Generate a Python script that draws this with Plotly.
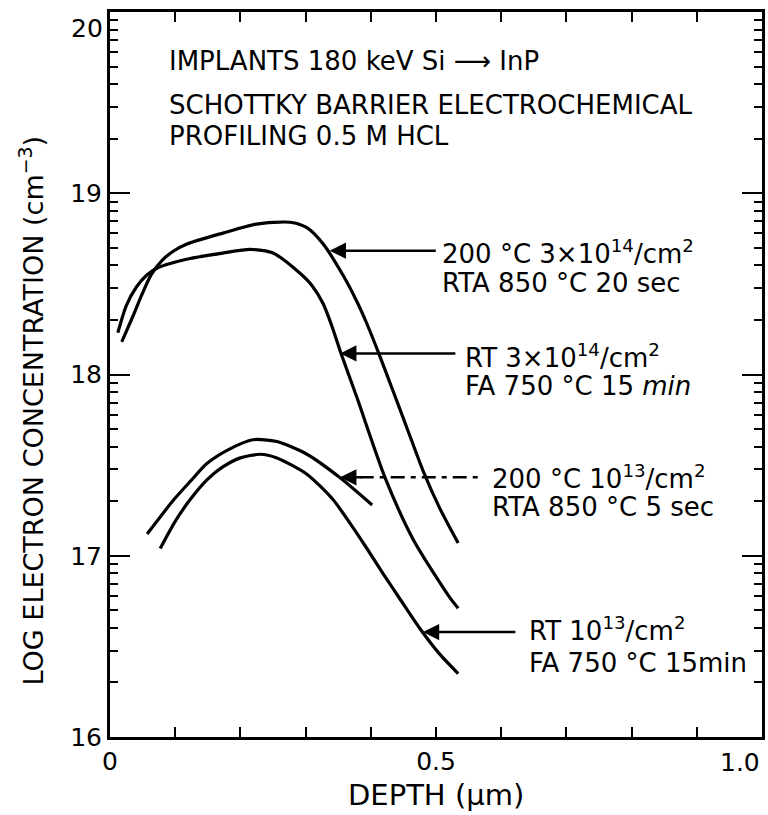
import math
import plotly.graph_objects as go

# ---- data (depth in µm, log10 electron concentration in cm^-3) ----
rta20_x = [0.018, 0.035, 0.050, 0.063, 0.080, 0.097, 0.118, 0.173, 0.225, 0.276,
           0.302, 0.327, 0.357, 0.379, 0.394, 0.414, 0.434, 0.457, 0.480, 0.506, 0.534]
rta20_y = [18.18, 18.32, 18.45, 18.55, 18.63, 18.68, 18.72, 18.78, 18.83, 18.84,
           18.81, 18.72, 18.55, 18.40, 18.28, 18.10, 17.91, 17.69, 17.47, 17.26, 17.07]

rtfa14_x = [0.012, 0.025, 0.040, 0.057, 0.074, 0.123, 0.173, 0.215, 0.250, 0.291,
            0.310, 0.327, 0.340, 0.353, 0.379, 0.422, 0.465, 0.521, 0.534]
rtfa14_y = [18.23, 18.38, 18.48, 18.55, 18.59, 18.64, 18.67, 18.69, 18.67, 18.56,
            18.49, 18.39, 18.27, 18.13, 17.87, 17.43, 17.09, 16.77, 16.71]

rta5_x = [0.057, 0.098, 0.123, 0.149, 0.184, 0.219, 0.256, 0.302, 0.353, 0.402]
rta5_y = [17.12, 17.31, 17.41, 17.51, 17.59, 17.64, 17.63, 17.56, 17.43, 17.28]

rtfa13_x = [0.077, 0.100, 0.123, 0.149, 0.173, 0.200, 0.230, 0.256, 0.302, 0.342,
            0.368, 0.394, 0.419, 0.445, 0.475, 0.505, 0.534]
rtfa13_y = [17.04, 17.19, 17.31, 17.42, 17.49, 17.54, 17.56, 17.54, 17.45, 17.31,
            17.18, 17.04, 16.90, 16.76, 16.60, 16.46, 16.35]

x_tickvals = [0, 0.5, 1.0]
x_ticktext = ["0", "0.5", "1.0"]
y_tickvals = [16, 17, 18, 19, 20]
y_ticktext = ["16", "17", "18", "19", "20"]

header_lines = ["IMPLANTS 180 keV Si \u27f6 InP",
                "SCHOTTKY BARRIER ELECTROCHEMICAL",
                "PROFILING 0.5 M HCL"]
curve_labels = [
    ["200 \u00b0C 3\u00d710<sup>14</sup>/cm<sup>2</sup>", "RTA 850 \u00b0C 20 sec"],
    ["RT 3\u00d710<sup>14</sup>/cm<sup>2</sup>", "FA 750 \u00b0C 15 <i>min</i>"],
    ["200 \u00b0C 10<sup>13</sup>/cm<sup>2</sup>", "RTA 850 \u00b0C 5 sec"],
    ["RT 10<sup>13</sup>/cm<sup>2</sup>", "FA 750 \u00b0C 15min"],
]

# ---- layout helpers (positions) ----
FONT = "DejaVu Sans"
TICKFONT = dict(family=FONT, size=25, color="black")
header_pos = [(0.087, 19.73), (0.087, 19.487), (0.087, 19.317)]
# (x, y of first line, y of second line)
label_pos = [(0.506, 18.675, 18.505), (0.541, 18.100, 17.935),
             (0.583, 17.435, 17.270), (0.640, 16.598, 16.410)]
# arrows: (tip_x, tail_x, y, dashed)
arrows = [(0.337, 0.502, 18.683, False),
          (0.353, 0.532, 18.116, False),
          (0.353, 0.572, 17.433, True),
          (0.480, 0.624, 16.579, False)]

fig = go.Figure()
line = dict(color="black", width=3.2, shape="spline", smoothing=0.7)
for xs, ys in [(rta20_x, rta20_y), (rtfa14_x, rtfa14_y), (rta5_x, rta5_y), (rtfa13_x, rtfa13_y)]:
    fig.add_trace(go.Scatter(x=xs, y=ys, mode="lines", line=line, showlegend=False,
                             hoverinfo="skip"))

annotations = []
shapes = []
for txt, (hx, hy) in zip(header_lines, header_pos):
    annotations.append(dict(x=hx, y=hy, xref="x", yref="y", text=txt, showarrow=False,
                            xanchor="left", yanchor="middle",
                            font=dict(family=FONT, size=26, color="black")))
for lines_, (lx, ly1, ly2) in zip(curve_labels, label_pos):
    for txt, ly in zip(lines_, (ly1, ly2)):
        annotations.append(dict(x=lx, y=ly, xref="x", yref="y", text=txt, showarrow=False,
                                xanchor="left", yanchor="middle", align="left",
                                font=dict(family=FONT, size=26, color="black")))
for tip, tail, ay, dashed in arrows:
    if dashed:
        shapes.append(dict(type="line", xref="x", yref="y", x0=tip + 0.03, x1=tail,
                           y0=ay, y1=ay, line=dict(color="black", width=2.5,
                                                   dash="14px,6px,5px,6px")))
        tail_a = tip + 0.035
    else:
        tail_a = tail
    annotations.append(dict(x=tip, y=ay, ax=tail_a, ay=ay, xref="x", yref="y",
                            axref="x", ayref="y", text="", showarrow=True,
                            arrowhead=2, arrowsize=1.3, arrowwidth=2.5, arrowcolor="black",
                            standoff=0, startstandoff=0))

# edge tick labels placed inside the page so they are not cut off
annotations.append(dict(x=x_tickvals[-1], y=0, xref="x", yref="paper", text=x_ticktext[-1],
                        showarrow=False, xanchor="right", yanchor="top", yshift=-9,
                        font=TICKFONT))
annotations.append(dict(x=0, y=y_tickvals[-1], xref="paper", yref="y", text=y_ticktext[-1],
                        showarrow=False, xanchor="right", yanchor="top", xshift=-5,
                        font=TICKFONT))
x_ticktext_axis = x_ticktext[:-1] + [""]
y_ticktext_axis = y_ticktext[:-1] + [""]

annotations.append(dict(x=-0.12, y=0.45, xref="paper", yref="paper",
                        text="LOG ELECTRON CONCENTRATION (cm<sup>\u22123</sup>)",
                        textangle=-90, showarrow=False, xanchor="center", yanchor="middle",
                        font=dict(family=FONT, size=27, color="black")))
annotations.append(dict(x=0.5, y=-0.08, xref="paper", yref="paper",
                        text="DEPTH (\u03bcm)", showarrow=False,
                        xanchor="center", yanchor="middle",
                        font=dict(family=FONT, size=29, color="black")))

minor_y = [d + math.log10(m) for d in range(16, 20) for m in range(2, 10)]
minor_x = [k / 10 for k in range(1, 10) if k != 5]

fig.update_layout(
    width=768, height=815,
    margin=dict(l=110, r=6, t=12, b=78, autoexpand=False),
    plot_bgcolor="white", paper_bgcolor="white",
    annotations=annotations, shapes=shapes,
    xaxis=dict(range=[0, 1.0], showline=True, linewidth=3, linecolor="black",
               mirror="ticks", ticks="inside", ticklen=10, tickwidth=2, tickcolor="black",
               tickvals=x_tickvals, ticktext=x_ticktext_axis, showgrid=False, zeroline=False,
               automargin=False, tickfont=TICKFONT,
               minor=dict(tickvals=minor_x, ticks="inside", ticklen=10, tickwidth=2,
                          tickcolor="black", showgrid=False)),
    yaxis=dict(range=[16, 20], showline=True, linewidth=3, linecolor="black",
               mirror="ticks", ticks="inside", ticklen=20, tickwidth=2, tickcolor="black",
               tickvals=y_tickvals, ticktext=y_ticktext_axis, showgrid=False, zeroline=False,
               automargin=False, tickfont=TICKFONT,
               minor=dict(tickvals=minor_y, ticks="inside", ticklen=8, tickwidth=2,
                          tickcolor="black", showgrid=False)),
)

fig.write_html("out.html")
